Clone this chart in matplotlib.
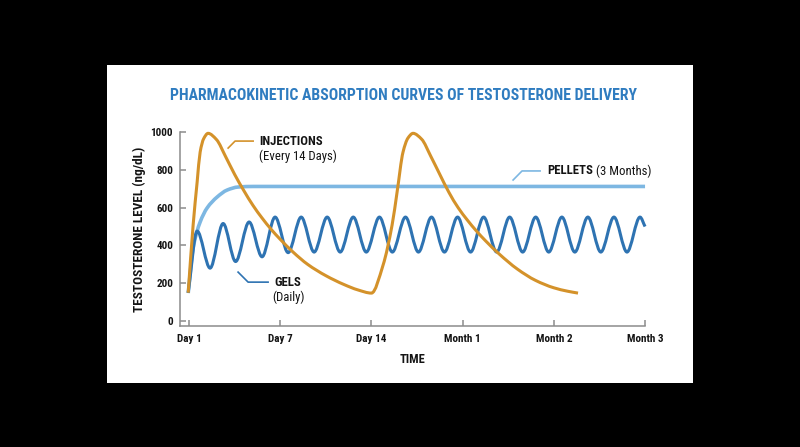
import numpy as np
import matplotlib
matplotlib.use("Agg")
import matplotlib.pyplot as plt
from matplotlib.path import Path
from matplotlib.patches import PathPatch, Rectangle
from matplotlib import font_manager

# ---------------- data ----------------
tick_labels = ["Day 1", "Day 7", "Day 14", "Month 1", "Month 2", "Month 3"]
tick_pos = [0, 1, 2, 3, 4, 5]
y_ticks = [0, 200, 400, 600, 800, 1000]

inj_x = [-0.01, 0.044, 0.088, 0.121, 0.160, 0.208,
         0.300, 0.400, 0.500, 0.600, 0.700, 0.800, 0.900, 1.000, 1.140,
         1.300, 1.500, 1.700, 1.850, 2.000,
         2.127, 2.226, 2.281, 2.346, 2.400, 2.456,
         2.550, 2.650, 2.750, 2.850, 2.950, 3.050, 3.150, 3.250, 3.400,
         3.600, 3.800, 4.000, 4.150, 4.265]
inj_y = [150, 508, 735, 894, 965, 993,
         960, 870, 775, 690, 612, 545, 485, 432, 365,
         300, 240, 193, 165, 148,
         296, 508, 683, 894, 968, 993,
         962, 872, 775, 680, 600, 535, 477, 425, 355,
         275, 215, 176, 158, 148]

pel_x = [-0.01, 0.044, 0.121, 0.197, 0.307, 0.417, 0.537, 0.702, 5.0]
pel_y = [148, 386, 524, 598, 656, 693, 709, 712, 712]

gel_x = [-0.01, 0.088, 0.230, 0.373, 0.510, 0.658, 0.800,
         0.943, 1.086, 1.229, 1.371, 1.514, 1.657, 1.800, 1.943,
         2.087, 2.229, 2.373, 2.515, 2.658, 2.800, 2.944, 3.087,
         3.230, 3.373, 3.515, 3.658, 3.801, 3.944, 4.088, 4.230,
         4.373, 4.515, 4.659, 4.802, 4.945, 5.0]
gel_y = [150, 476, 280, 516, 315, 524, 340,
         550, 362, 550, 365, 550, 365, 550, 365,
         550, 365, 550, 365, 550, 365, 550, 365,
         550, 365, 550, 365, 550, 365, 550, 365,
         550, 365, 550, 365, 550, 500]

# ---------------- style ----------------
names = {f.name for f in font_manager.fontManager.ttflist}
cond = None
for cand in ["Roboto Condensed", "Liberation Sans Narrow", "DejaVu Sans Condensed", "Roboto"]:
    if cand in names:
        cond = cand
        break
plt.rcParams["font.family"] = [cond, "DejaVu Sans"]

C_INJ = "#D4922A"
C_GEL = "#2E73B2"
C_PEL = "#7DB7E2"
C_TITLE = "#2F7CC0"
C_AX = "#8C8C8C"
C_TXT = "#141414"


def smooth_path(x, y):
    x = np.asarray(x, float)
    y = np.asarray(y, float)
    h = np.diff(x)
    d = np.diff(y) / h
    m = np.zeros_like(x)
    m[0] = d[0]
    m[-1] = d[-1]
    for k in range(1, len(x) - 1):
        if d[k - 1] * d[k] <= 0:
            m[k] = 0.0
        else:
            w1 = 2 * h[k] + h[k - 1]
            w2 = h[k] + 2 * h[k - 1]
            m[k] = (w1 + w2) / (w1 / d[k - 1] + w2 / d[k])
    verts = [(x[0], y[0])]
    codes = [Path.MOVETO]
    for i in range(len(x) - 1):
        hh = h[i] / 3.0
        verts += [(x[i] + hh, y[i] + m[i] * hh),
                  (x[i + 1] - hh, y[i + 1] - m[i + 1] * hh),
                  (x[i + 1], y[i + 1])]
        codes += [Path.CURVE4] * 3
    return Path(verts, codes)


fig = plt.figure(figsize=(8.0, 4.47), dpi=100)
fig.patch.set_facecolor("black")
fig.patches.append(Rectangle((0.134, 0.143), 0.732, 0.712, transform=fig.transFigure,
                             facecolor="white", edgecolor="none", zorder=-10))

ax = fig.add_axes([0.225, 0.2707, 0.5813, 0.434])
ax.set_zorder(1)
ax.set_facecolor("none")
ax.set_xlim(-0.1, 5.0)
ax.set_ylim(-26, 1000)

for s in ["top", "right"]:
    ax.spines[s].set_visible(False)
for s in ["left", "bottom"]:
    ax.spines[s].set_color(C_AX)
    ax.spines[s].set_linewidth(1.1)

ax.set_xticks(tick_pos)
ax.set_xticklabels(tick_labels)
ax.set_yticks(y_ticks)
ax.set_yticklabels([str(v) for v in y_ticks])
ax.tick_params(axis="both", direction="in", length=4, width=1.1, color=C_AX,
               labelsize=8, labelcolor=C_TXT)
ax.tick_params(axis="x", pad=6)
ax.tick_params(axis="y", pad=5)
for lab in ax.get_xticklabels() + ax.get_yticklabels():
    lab.set_fontweight("bold")

ax.set_xlabel("TIME", fontsize=9, fontweight="bold", color=C_TXT, labelpad=6)
ax.set_ylabel("TESTOSTERONE LEVEL (ng/dL)", fontsize=9.5, fontweight="bold",
              color=C_TXT, labelpad=3)

# curves
ax.add_patch(PathPatch(smooth_path(pel_x, pel_y), facecolor="none", edgecolor=C_PEL,
                       lw=2.6, capstyle="butt", joinstyle="round", clip_on=False, zorder=3))
ax.add_patch(PathPatch(smooth_path(gel_x, gel_y), facecolor="none", edgecolor=C_GEL,
                       lw=2.2, capstyle="butt", joinstyle="round", clip_on=False, zorder=4))
ax.add_patch(PathPatch(smooth_path(inj_x, inj_y), facecolor="none", edgecolor=C_INJ,
                       lw=2.2, capstyle="butt", joinstyle="round", clip_on=False, zorder=5))

# annotations
FS = 9.2
ax.plot([0.428, 0.504, 0.702], [915, 952, 952], color=C_INJ, lw=1.2, clip_on=False, zorder=6)
ax.text(0.768, 952, "INJECTIONS", fontsize=FS, fontweight="bold", color=C_TXT,
        ha="left", va="center")
ax.text(0.768, 871, "(Every 14 Days)", fontsize=FS, color=C_TXT, ha="left", va="center")

ax.plot([0.537, 0.647, 0.866], [259, 206, 206], color=C_GEL, lw=1.2, clip_on=False, zorder=6)
ax.text(1.086, 206, "GELS", fontsize=FS, fontweight="bold", color=C_TXT,
        ha="center", va="center")
ax.text(1.086, 125, "(Daily)", fontsize=FS, color=C_TXT, ha="center", va="center")

ax.plot([3.553, 3.651, 3.849], [746, 794, 794], color=C_PEL, lw=1.2, clip_on=False, zorder=6)
t1 = ax.text(3.925, 794, "PELLETS", fontsize=FS, fontweight="bold", color=C_TXT,
             ha="left", va="center")
fig.canvas.draw()
bb = t1.get_window_extent()
x_end = ax.transData.inverted().transform((bb.x1, bb.y0))[0]
ax.text(x_end + 0.03, 794, "(3 Months)", fontsize=FS, color=C_TXT, ha="left", va="center")

fig.text(0.505, 0.787, "PHARMACOKINETIC ABSORPTION CURVES OF TESTOSTERONE DELIVERY",
         fontsize=11.35, fontweight="bold", color=C_TITLE, ha="center", va="center")

fig.savefig("out.png", dpi=100, facecolor=fig.get_facecolor())
